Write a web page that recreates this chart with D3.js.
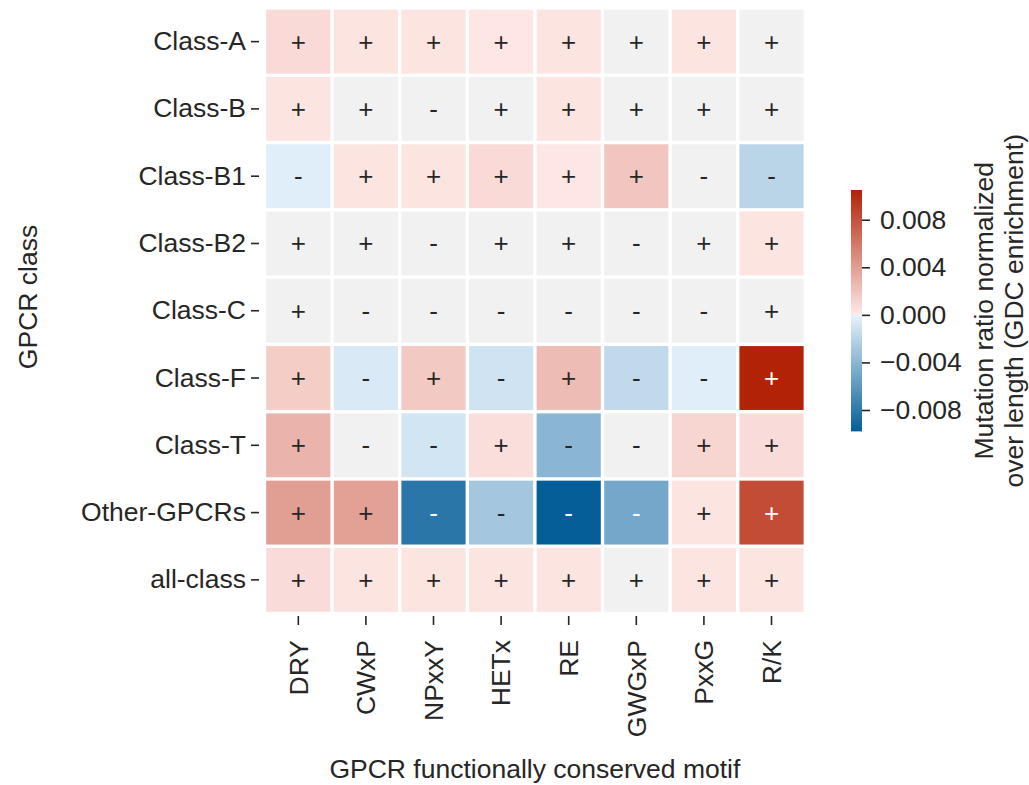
<!DOCTYPE html>
<html>
<head>
<meta charset="utf-8">
<script src="https://cdn.jsdelivr.net/npm/d3@7"></script>
<style>
  html, body { margin: 0; padding: 0; background: #ffffff; }
  svg { display: block; font-family: "Liberation Sans", Arial, sans-serif; }
</style>
</head>
<body>
<svg id="chart" width="1029" height="785"></svg>
<script>
// Motifs (columns) and GPCR classes (rows)
const motifs = ["DRY", "CWxP", "NPxxY", "HETx", "RE", "GWGxP", "PxxG", "R/K"];
const gpcrClasses = ["Class-A", "Class-B", "Class-B1", "Class-B2", "Class-C",
                     "Class-F", "Class-T", "Other-GPCRs", "all-class"];

// Mutation ratio normalized over length, one array per class (motif order above)
const classA      = [ 0.0008,    0.0003,    0.0003,    0.0002,    0.0003,    0.000002,  0.0003,    0.000002];
const classB      = [ 0.0003,    0.000002, -0.000002,  0.000002,  0.0003,    0.000002,  0.000002,  0.000002];
const classB1     = [-0.0003,    0.0003,    0.0003,    0.0008,    0.0002,    0.00186,  -0.000002, -0.0019];
const classB2     = [ 0.000002,  0.000002, -0.000002,  0.000002,  0.000002, -0.000002,  0.000002,  0.0003];
const classC      = [ 0.000002, -0.000002, -0.000002, -0.000002, -0.000002, -0.000002, -0.000002,  0.000002];
const classF      = [ 0.0015,   -0.0006,    0.0017,   -0.001,     0.0024,   -0.0017,   -0.0003,    0.0105];
const classT      = [ 0.0028,   -0.000002, -0.0009,    0.0006,   -0.004,    -0.000002,  0.0011,    0.0007];
const otherGPCRs  = [ 0.004,     0.0038,   -0.0082,   -0.0029,   -0.0098,   -0.005,     0.0003,    0.0083];
const allClass    = [ 0.0007,    0.0003,    0.0003,    0.0003,    0.0003,    0.000002,  0.0003,    0.0003];
const valueRows   = [classA, classB, classB1, classB2, classC, classF, classT, otherGPCRs, allClass];

// Colour bar ticks and range
const cbarTicks = [-0.008, -0.004, 0, 0.004, 0.008];
const vmin = -0.0098, vmax = 0.0105;

const cells = [];
gpcrClasses.forEach((cls, i) => {
  motifs.forEach((m, j) => cells.push({ cls, motif: m, value: valueRows[i][j] }));
});

const svg = d3.select("#chart");
const ink = "#262626";
const fontSize = 26.5;
const annotSize = 26;
const fontFamily = "Liberation Sans, Arial, sans-serif";

// Diverging colour map centred on zero (light grey midpoint)
const eps = 0.00008;
const color = d3.scaleLinear()
  .domain([vmin, -eps, 0, eps, vmax])
  .range(["rgb(5,94,152)", "rgb(229,241,251)", "rgb(241,241,241)", "rgb(254,232,230)", "rgb(178,34,6)"])
  .interpolate(d3.interpolateRgb)
  .clamp(true);

function luminance(c) {
  const rgb = d3.rgb(c);
  const lin = v => { v /= 255; return v <= 0.03928 ? v / 12.92 : Math.pow((v + 0.055) / 1.055, 2.4); };
  return 0.2126 * lin(rgb.r) + 0.7152 * lin(rgb.g) + 0.0722 * lin(rgb.b);
}

// Heatmap scales
const x = d3.scaleBand().domain(motifs).range([264.5, 805.3]);
const y = d3.scaleBand().domain(gpcrClasses).range([8, 613.5]);
const gap = 3.4;

const g = svg.append("g");
g.selectAll("rect.cell")
  .data(cells)
  .join("rect")
  .attr("class", "cell")
  .attr("x", d => x(d.motif) + gap / 2)
  .attr("y", d => y(d.cls) + gap / 2)
  .attr("width", x.bandwidth() - gap)
  .attr("height", y.bandwidth() - gap)
  .attr("fill", d => color(d.value));

g.selectAll("text.annot")
  .data(cells)
  .join("text")
  .attr("class", "annot")
  .attr("x", d => x(d.motif) + x.bandwidth() / 2)
  .attr("y", d => y(d.cls) + y.bandwidth() / 2)
  .attr("text-anchor", "middle")
  .attr("dominant-baseline", "central")
  .attr("font-size", annotSize)
  .attr("fill", d => luminance(color(d.value)) > 0.408 ? ink : "#ffffff")
  .text(d => d.value > 0 ? "+" : "-");

// Y axis (class labels)
const yAxis = d3.axisLeft(y).tickSize(8).tickPadding(5);
const yG = svg.append("g").attr("transform", "translate(259,0)").call(yAxis);
yG.select(".domain").remove();
yG.selectAll(".tick line").attr("stroke", ink).attr("stroke-width", 1.6);
yG.selectAll(".tick text").attr("font-size", fontSize).attr("fill", ink)
  .attr("font-family", fontFamily);

// X axis (motif labels, rotated)
const xAxis = d3.axisBottom(x).tickSize(9).tickPadding(6);
const xG = svg.append("g").attr("transform", "translate(0,616)").call(xAxis);
xG.select(".domain").remove();
xG.selectAll(".tick line").attr("stroke", ink).attr("stroke-width", 1.6);
xG.selectAll(".tick text")
  .attr("font-size", fontSize).attr("fill", ink)
  .attr("font-family", fontFamily)
  .attr("transform", "rotate(-90)")
  .attr("text-anchor", "end")
  .attr("dy", "0.35em")
  .attr("x", -24)
  .attr("y", 0);

// Axis titles
svg.append("text")
  .attr("x", (264.5 + 805.3) / 2).attr("y", 778)
  .attr("text-anchor", "middle").attr("font-size", fontSize).attr("fill", ink)
  .text("GPCR functionally conserved motif");

svg.append("text")
  .attr("transform", "translate(37,297) rotate(-90)")
  .attr("text-anchor", "middle").attr("font-size", fontSize).attr("fill", ink)
  .text("GPCR class");

// Colour bar
const cbX = 851, cbW = 11, cbTop = 190, cbBottom = 431.4;
const cbScale = d3.scaleLinear().domain([vmin, vmax]).range([cbBottom, cbTop]);

const defs = svg.append("defs");
const grad = defs.append("linearGradient").attr("id", "cbar-grad")
  .attr("x1", 0).attr("y1", 1).attr("x2", 0).attr("y2", 0);
d3.range(0, 257).forEach(k => {
  const t = k / 256;
  const v = vmin + t * (vmax - vmin);
  grad.append("stop").attr("offset", t).attr("stop-color", color(v));
});
svg.append("rect")
  .attr("x", cbX).attr("y", cbTop)
  .attr("width", cbW).attr("height", cbBottom - cbTop)
  .attr("fill", "url(#cbar-grad)");

const cbAxis = d3.axisRight(cbScale).tickValues(cbarTicks).tickFormat(d3.format(".3f"))
  .tickSize(8).tickPadding(10);
const cbG = svg.append("g").attr("transform", `translate(${cbX + cbW},0)`).call(cbAxis);
cbG.select(".domain").remove();
cbG.selectAll(".tick line").attr("stroke", ink).attr("stroke-width", 1.6);
cbG.selectAll(".tick text").attr("font-size", fontSize).attr("fill", ink)
  .attr("font-family", fontFamily);

const cbLabel = svg.append("text")
  .attr("transform", `translate(993,${(cbTop + cbBottom) / 2}) rotate(-90)`)
  .attr("text-anchor", "middle").attr("font-size", fontSize).attr("fill", ink);
cbLabel.append("tspan").attr("x", 0).attr("dy", 0).text("Mutation ratio normalized");
cbLabel.append("tspan").attr("x", 0).attr("dy", 30).text("over length (GDC enrichment)");
</script>
</body>
</html>
